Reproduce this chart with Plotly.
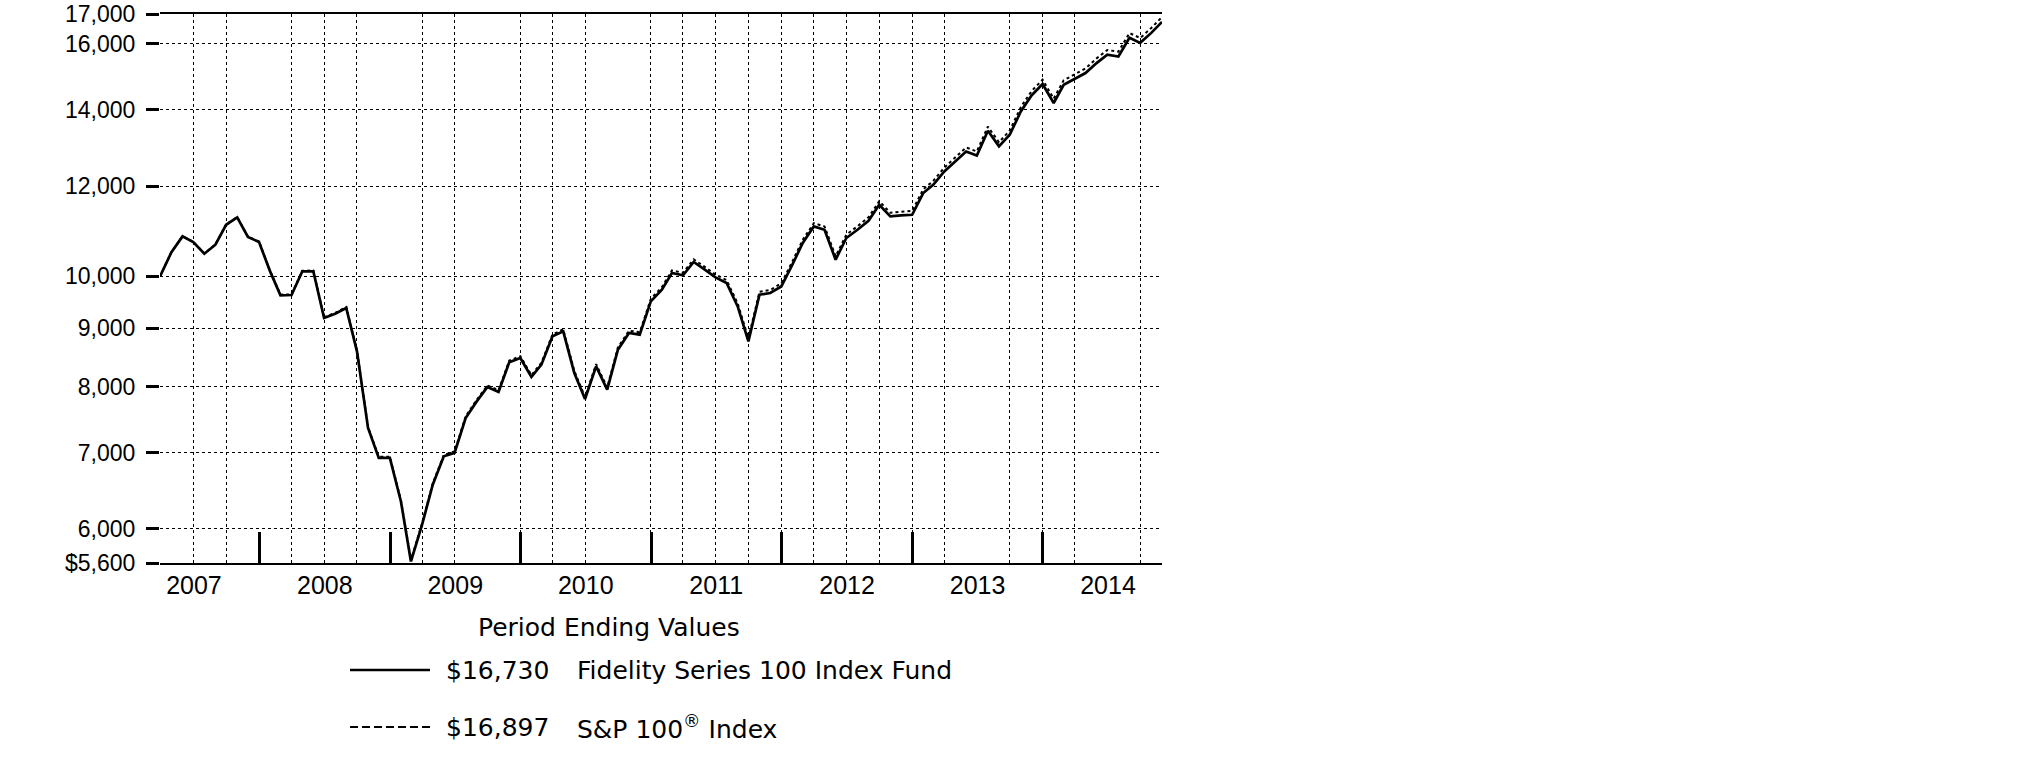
import pandas as pd
import numpy as np
import plotly.graph_objects as go

# ---- data ----
start_date = "2007-03-29"
end_date = "2014-11-30"
month_ends = pd.date_range("2007-04-30", "2014-11-30", freq="ME")
dates = [pd.Timestamp(start_date)] + list(month_ends)

fund_values = [
    10000, 10500, 10842, 10719, 10469, 10661, 11100, 11265, 10829, 10719,
    10101, 9623, 9630, 10101, 10101, 9192, 9272, 9380, 8592, 7358,
    6926, 6926, 6343, 5618, 6050, 6561, 6949, 6997, 7509, 7765,
    7995, 7914, 8403, 8478, 8158, 8364, 8857, 8947, 8225, 7803,
    8336, 7952, 8622, 8918, 8887, 9507, 9735, 10068, 10020, 10295,
    10136, 9979, 9867, 9410, 8768, 9635, 9668, 9798, 10239, 10697,
    11062, 10988, 10343, 10806, 10988, 11190, 11558, 11288, 11311, 11327,
    11835, 12035, 12363, 12615, 12873, 12769, 13425, 13006, 13316, 13958,
    14418, 14754, 14199, 14733, 14904, 15086, 15394, 15655, 15601, 16199,
    16036, 16363, 16730,
]
index_values = [
    10000, 10501, 10844, 10723, 10474, 10667, 11107, 11274, 10839, 10730,
    10112, 9635, 9643, 10115, 10117, 9207, 9288, 9398, 8609, 7373,
    6941, 6942, 6358, 5632, 6066, 6579, 6969, 7018, 7532, 7790,
    8021, 7941, 8433, 8509, 8189, 8396, 8892, 8983, 8259, 7836,
    8373, 7988, 8662, 8960, 8930, 9554, 9784, 10120, 10073, 10350,
    10192, 10035, 9923, 9465, 8820, 9693, 9728, 9859, 10304, 10766,
    11135, 11062, 10414, 10881, 11065, 11270, 11642, 11371, 11396, 11413,
    11926, 12129, 12461, 12716, 12978, 12874, 13537, 13116, 13430, 14079,
    14545, 14885, 14327, 14867, 15042, 15227, 15540, 15805, 15752, 16358,
    16195, 16527, 16897,
]

fund_name = "Fidelity Series 100 Index Fund"
index_name = "S&P 100<sup>®</sup> Index"
fund_end_label = "$16,730"
index_end_label = "$16,897"
legend_title = "Period Ending Values"

y_tickvals = [5600, 6000, 7000, 8000, 9000, 10000, 12000, 14000, 16000, 17000]
y_ticktext = ["$5,600", "6,000", "7,000", "8,000", "9,000", "10,000",
              "12,000", "14,000", "16,000", "17,000"]

year_labels = ["2007", "2008", "2009", "2010", "2011", "2012", "2013", "2014"]
year_mid_dates = [f"{y}-07-02" for y in year_labels]
year_boundaries = ["2008-01-01", "2009-01-01", "2010-01-01", "2011-01-01",
                   "2012-01-01", "2013-01-01", "2014-01-01"]
grid_dates = [
    "2007-03-29", "2007-06-30", "2007-09-30", "2008-03-31", "2008-06-30",
    "2008-09-30", "2009-03-31", "2009-06-30", "2009-12-31", "2010-03-31",
    "2010-06-30", "2010-12-31", "2011-03-31", "2011-06-30", "2011-09-30",
    "2011-12-31", "2012-03-31", "2012-06-30", "2012-09-30", "2012-12-31",
    "2013-03-31", "2013-09-30", "2013-12-31", "2014-03-31", "2014-09-30",
]

FONT = "Liberation Sans, Arial, sans-serif"
LEG_FONT = "DejaVu Sans, Liberation Sans, Arial, sans-serif"
LEG_SIZE = 25

fig = go.Figure()
fig.add_trace(go.Scatter(
    x=dates, y=index_values, mode="lines", xaxis="x2", yaxis="y",
    line=dict(color="black", width=2, dash="dot"), showlegend=False,
    hoverinfo="skip"))
fig.add_trace(go.Scatter(
    x=dates, y=fund_values, mode="lines", xaxis="x", yaxis="y",
    line=dict(color="black", width=2.7), showlegend=False,
    hoverinfo="skip"))

xrange = [start_date, end_date]
yrange = [np.log10(5600), np.log10(17000)]
fig.update_layout(
    template="none",
    width=2025, height=773,
    margin=dict(l=160, r=863, t=14, b=210, autoexpand=False),
    paper_bgcolor="white", plot_bgcolor="white",
    showlegend=False,
    xaxis=dict(
        type="date", range=xrange, automargin=False,
        tickmode="array", tickvals=year_boundaries,
        ticks="inside", ticklen=31, tickwidth=3, tickcolor="black",
        showticklabels=False, showgrid=False, zeroline=False,
        showline=True, linecolor="black", linewidth=2, mirror=True,
        minor=dict(tickmode="array", tickvals=grid_dates, showgrid=True,
                   gridcolor="black", griddash="dot", gridwidth=1, ticks=""),
    ),
    xaxis2=dict(
        type="date", range=xrange, overlaying="x", anchor="y", side="bottom",
        automargin=False,
        tickmode="array", tickvals=year_mid_dates, ticktext=year_labels,
        ticks="", showgrid=False, zeroline=False, showline=False,
        tickfont=dict(family=FONT, size=25, color="black"),
        ticklabelstandoff=5,
    ),
    yaxis=dict(
        type="log", range=yrange, automargin=False,
        tickmode="array", tickvals=y_tickvals, ticktext=y_ticktext,
        ticks="outside", ticklen=13, tickwidth=3, tickcolor="black",
        tickfont=dict(family=FONT, size=23, color="black"),
        showgrid=True, gridcolor="black", griddash="dot", gridwidth=1,
        zeroline=False, showline=False, ticklabelstandoff=6,
    ),
    yaxis2=dict(
        type="log", range=yrange, automargin=False,
        overlaying="y", side="right", anchor="x",
        showline=True, linecolor="black", linewidth=2,
        showticklabels=False, ticks="", showgrid=False, zeroline=False,
    ),
)

# ---- manual legend ----
W, H = 1002.0, 549.0
def px(xpix):
    return (xpix - 160) / W
def py(ypix):
    return (563 - ypix) / H

leg_font = dict(family=LEG_FONT, size=LEG_SIZE, color="black")
annos = [
    dict(text=legend_title, x=px(609), y=py(627), xanchor="center", yanchor="middle"),
    dict(text=fund_end_label, x=px(444), y=py(670), xanchor="left", yanchor="middle"),
    dict(text=fund_name, x=px(575), y=py(670), xanchor="left", yanchor="middle"),
    dict(text=index_end_label, x=px(444), y=py(727), xanchor="left", yanchor="middle"),
    dict(text=index_name, x=px(575), y=py(727), xanchor="left", yanchor="middle"),
]
for a in annos:
    a.update(xref="paper", yref="paper", showarrow=False, font=leg_font)
fig.update_layout(annotations=annos)

fig.add_shape(type="line", xref="paper", yref="paper",
              x0=px(350), x1=px(430), y0=py(670), y1=py(670),
              line=dict(color="black", width=2.7))
fig.add_shape(type="line", xref="paper", yref="paper",
              x0=px(350), x1=px(430), y0=py(727), y1=py(727),
              line=dict(color="black", width=2, dash="8px,4px"))

fig.write_html("out.html")
